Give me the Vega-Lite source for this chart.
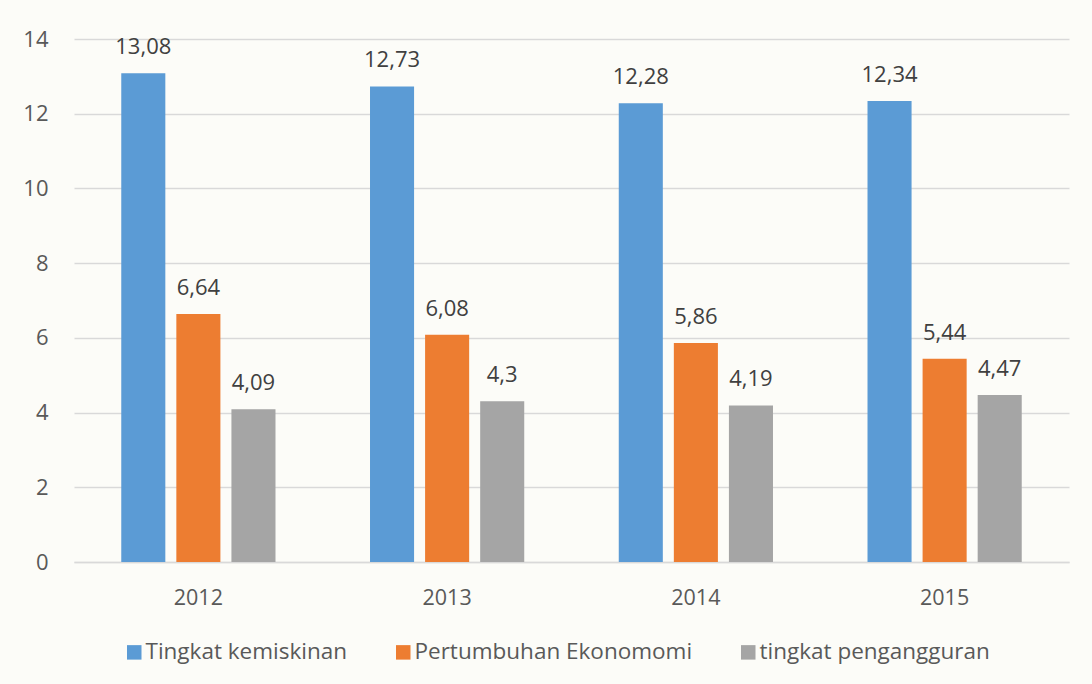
{
  "$schema": "https://vega.github.io/schema/vega-lite/v6.json",
  "width": 995,
  "height": 523,
  "autosize": "none",
  "padding": {"left": 74, "top": 39, "right": 23, "bottom": 122},
  "background": "#fcfcf8",
  "config": {
    "font": "Open Sans",
    "view": {"stroke": null},
    "locale": {"number": {"decimal": ",", "thousands": ".", "grouping": [3], "currency": ["", ""]}}
  },
  "data": {
    "values": [
      {"year": "2012", "series": "Tingkat kemiskinan", "value": 13.08},
      {"year": "2012", "series": "Pertumbuhan Ekonomomi", "value": 6.64},
      {"year": "2012", "series": "tingkat pengangguran", "value": 4.09},
      {"year": "2013", "series": "Tingkat kemiskinan", "value": 12.73},
      {"year": "2013", "series": "Pertumbuhan Ekonomomi", "value": 6.08},
      {"year": "2013", "series": "tingkat pengangguran", "value": 4.3},
      {"year": "2014", "series": "Tingkat kemiskinan", "value": 12.28},
      {"year": "2014", "series": "Pertumbuhan Ekonomomi", "value": 5.86},
      {"year": "2014", "series": "tingkat pengangguran", "value": 4.19},
      {"year": "2015", "series": "Tingkat kemiskinan", "value": 12.34},
      {"year": "2015", "series": "Pertumbuhan Ekonomomi", "value": 5.44},
      {"year": "2015", "series": "tingkat pengangguran", "value": 4.47}
    ]
  },
  "encoding": {
    "x": {
      "field": "year", "type": "nominal",
      "scale": {"paddingInner": 0.38, "paddingOuter": 0.19},
      "axis": {"title": null, "labelAngle": 0, "labelFontSize": 21.5, "labelColor": "#595959", "labelPadding": 25, "domain": true, "domainColor": "#d9d9d9", "domainWidth": 1.5, "ticks": false}
    },
    "xOffset": {
      "field": "series", "type": "nominal",
      "sort": ["Tingkat kemiskinan", "Pertumbuhan Ekonomomi", "tingkat pengangguran"],
      "scale": {"paddingInner": 0.2, "paddingOuter": 0}
    },
    "y": {
      "field": "value", "type": "quantitative",
      "scale": {"domain": [0, 14], "nice": false},
      "axis": {"title": null, "values": [0, 2, 4, 6, 8, 10, 12, 14], "labelFontSize": 22, "labelColor": "#595959", "labelPadding": 26, "domain": false, "ticks": false, "grid": true, "gridColor": "#d9d9d9", "gridWidth": 1.5}
    }
  },
  "layer": [
    {
      "mark": {"type": "bar"},
      "encoding": {
        "color": {
          "field": "series", "type": "nominal",
          "sort": ["Tingkat kemiskinan", "Pertumbuhan Ekonomomi", "tingkat pengangguran"],
          "scale": {"domain": ["Tingkat kemiskinan", "Pertumbuhan Ekonomomi", "tingkat pengangguran"], "range": ["#5b9bd5", "#ed7d31", "#a5a5a5"]},
          "legend": {
            "title": null, "orient": "none", "direction": "horizontal",
            "legendX": 49, "legendY": 602,
            "symbolType": "square", "symbolSize": 210, "symbolStrokeWidth": 0,
            "labelFontSize": 22.5, "labelColor": "#595959", "labelOffset": 0,
            "columnPadding": 44, "labelLimit": 400
          }
        }
      }
    },
    {
      "mark": {"type": "text", "baseline": "alphabetic", "dy": -19, "fontSize": 22, "color": "#404040"},
      "encoding": {
        "text": {"field": "value", "type": "quantitative", "format": "~g"}
      }
    }
  ]
}
